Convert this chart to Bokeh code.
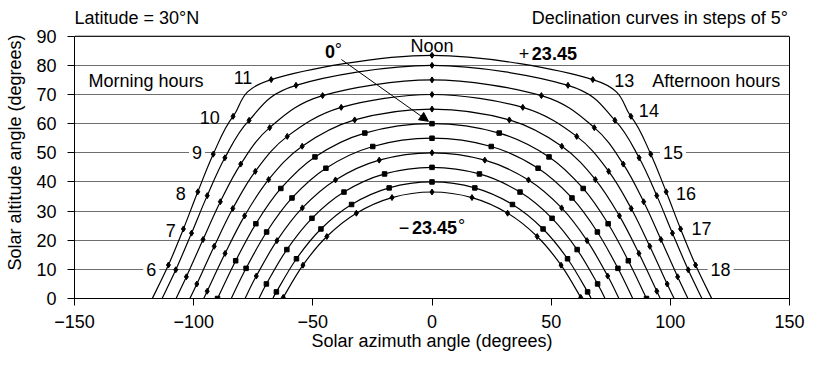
from bokeh.plotting import figure
from bokeh.models import Range1d, FixedTicker, Label, Arrow, NormalHead, Span, LinearAxis
from bokeh.embed import file_html
from bokeh.resources import INLINE

FONT = "Liberation Sans"

# ---- data: solar position, latitude 30 N, declination curves ----
declinations = [23.45, 20, 15, 10, 5, 0, -5, -10, -15, -20, -23.45]

hours_long = list(range(6, 19))    # 6 h .. 18 h
hours_short = list(range(7, 18))   # 7 h .. 17 h

az_p2345 = [-110.59, -104.30, -98.26, -91.79, -83.46, -67.48, 0.0, 67.48, 83.46, 91.79, 98.26, 104.30, 110.59]
alt_p2345 = [11.48, 23.87, 36.60, 49.53, 62.51, 75.11, 83.45, 75.11, 62.51, 49.53, 36.60, 23.87, 11.48]

az_p20 = [-107.50, -100.89, -94.31, -86.90, -76.74, -57.05, 0.0, 57.05, 76.74, 86.90, 94.31, 100.89, 107.50]
alt_p20 = [9.85, 22.43, 35.30, 48.28, 61.14, 73.15, 80.00, 73.15, 61.14, 48.28, 35.30, 22.43, 9.85]

az_p15 = [-103.06, -96.07, -88.81, -80.25, -68.10, -45.90, 0.0, 45.90, 68.10, 80.25, 88.81, 96.07, 103.06]
alt_p15 = [7.44, 20.24, 33.21, 46.13, 58.63, 69.62, 75.00, 69.62, 58.63, 46.13, 33.21, 20.24, 7.44]

az_p10 = [-98.68, -91.38, -83.59, -74.14, -60.73, -38.09, 0.0, 38.09, 60.73, 74.14, 83.59, 91.38, 98.68]
alt_p10 = [4.98, 17.91, 30.88, 43.62, 55.63, 65.59, 70.00, 65.59, 55.63, 43.62, 30.88, 17.91, 4.98]

az_p05 = [-94.33, -86.82, -78.63, -68.55, -54.46, -32.44, 0.0, 32.44, 54.46, 68.55, 78.63, 86.82, 94.33]
alt_p05 = [2.50, 15.48, 28.36, 40.81, 52.25, 61.27, 65.00, 61.27, 52.25, 40.81, 28.36, 15.48, 2.50]

az_000 = [-90.00, -82.37, -73.90, -63.43, -49.11, -28.19, 0.0, 28.19, 49.11, 63.43, 73.90, 82.37, 90.00]
alt_000 = [0.00, 12.95, 25.66, 37.76, 48.59, 56.77, 60.00, 56.77, 48.59, 37.76, 25.66, 12.95, 0.00]

az_m05 = [-78.01, -69.39, -58.74, -44.51, -24.86, 0.0, 24.86, 44.51, 58.74, 69.39, 78.01]
alt_m05 = [10.35, 22.82, 34.50, 44.71, 52.16, 55.00, 52.16, 44.71, 34.50, 22.82, 10.35]

az_m10 = [-73.72, -65.06, -54.40, -40.49, -22.15, 0.0, 22.15, 40.49, 54.40, 65.06, 73.72]
alt_m10 = [7.70, 19.85, 31.08, 40.68, 47.48, 50.00, 47.48, 40.68, 31.08, 19.85, 7.70]

az_m15 = [-69.48, -60.90, -50.37, -36.94, -19.90, 0.0, 19.90, 36.94, 50.37, 60.90, 69.48]
alt_m15 = [5.00, 16.79, 27.52, 36.52, 42.74, 45.00, 42.74, 36.52, 27.52, 16.79, 5.00]

az_m20 = [-65.29, -56.87, -46.60, -33.75, -17.97, 0.0, 17.97, 33.75, 46.60, 56.87, 65.29]
alt_m20 = [2.27, 13.64, 23.86, 32.26, 37.96, 40.00, 37.96, 32.26, 23.86, 13.64, 2.27]

az_m2345 = [-62.40, -54.15, -44.13, -31.73, -16.78, 0.0, 16.78, 31.73, 44.13, 54.15, 62.40]
alt_m2345 = [0.38, 11.44, 21.27, 29.28, 34.64, 36.55, 34.64, 29.28, 21.27, 11.44, 0.38]

# sunrise / sunset azimuths (altitude 0); None where sunrise is an hourly point
sunrise_az = [-117.35, -113.26, -107.39, -101.57, -95.78, None, -84.22, -78.43, -72.61, -66.74, -62.65]
sunset_az = [117.35, 113.26, 107.39, 101.57, 95.78, None, 84.22, 78.43, 72.61, 66.74, 62.65]

curve_az = [az_p2345, az_p20, az_p15, az_p10, az_p05, az_000, az_m05, az_m10, az_m15, az_m20, az_m2345]
curve_alt = [alt_p2345, alt_p20, alt_p15, alt_p10, alt_p05, alt_000, alt_m05, alt_m10, alt_m15, alt_m20, alt_m2345]
curve_marker = ["diamond", "diamond", "diamond", "diamond", "diamond", "square",
                "square", "diamond", "square", "square", "diamond"]

x_ticks = [-150, -100, -50, 0, 50, 100, 150]
x_tick_labels = ["\u2212150", "\u2212100", "\u221250", "0", "50", "100", "150"]
y_ticks = [0, 10, 20, 30, 40, 50, 60, 70, 80, 90]

hour_text = ["6", "7", "8", "9", "10", "11", "13", "14", "15", "16", "17", "18"]
hour_x = [-117.8, -109.6, -105.4, -98.6, -93.2, -79.3, 80.7, 91.0, 101.1, 106.6, 113.1, 121.1]
hour_y = [10, 23.3, 36.1, 50, 62.0, 75.8, 74.7, 64.5, 50, 36.1, 24.1, 10]
hour_on_grid = ["6", "9", "15", "18"]

# ---- figure ----
# y range runs above 90 so the two header texts sit inside the frame;
# the visible box is closed at 90 by a span and a bounded right axis.
p = figure(width=805, height=353, x_range=Range1d(-150, 150), y_range=Range1d(0, 100.2),
           output_backend="svg", toolbar_location=None,
           min_border_left=74, min_border_right=16, min_border_top=6, min_border_bottom=53)
p.background_fill_color = "white"
p.border_fill_color = "white"
p.outline_line_color = None

p.xgrid.grid_line_color = None
p.ygrid.ticker = FixedTicker(ticks=y_ticks)
p.ygrid.grid_line_color = "#6e6e6e"
p.ygrid.grid_line_width = 1

p.xaxis.ticker = FixedTicker(ticks=x_ticks)
p.xaxis.major_label_overrides = dict(zip(x_ticks, x_tick_labels))
p.yaxis.ticker = FixedTicker(ticks=y_ticks)
p.yaxis.bounds = (0, 90)
for ax in (p.xaxis[0], p.yaxis[0]):
    ax.axis_line_color = "black"
    ax.major_tick_line_color = "black"
    ax.major_tick_out = 7
    ax.major_tick_in = 0
    ax.minor_tick_line_color = None
    ax.major_label_text_font = FONT
    ax.major_label_text_font_size = "18px"
    ax.major_label_text_color = "black"
    ax.axis_label_text_font = FONT
    ax.axis_label_text_font_size = "18px"
    ax.axis_label_text_font_style = "normal"
    ax.axis_label_text_color = "black"
p.xaxis.axis_label = "Solar azimuth angle (degrees)"
p.yaxis.axis_label = "Solar altitude angle (degrees)"
p.xaxis.major_label_standoff = 9
p.xaxis.axis_label_standoff = 0
p.yaxis.major_label_standoff = 11
p.yaxis.axis_label_standoff = 8

right_ax = LinearAxis(bounds=(0, 90), ticker=FixedTicker(ticks=[]), axis_line_color="black",
                      major_tick_line_color=None, minor_tick_line_color=None,
                      major_label_text_font_size="0px")
p.add_layout(right_ax, "right")
p.add_layout(Span(location=90, dimension="width", line_color="black", line_width=1))


def smooth_segments(xs, ys):
    """Excel-style smoothed line: cubic Bezier pieces through the points."""
    n = len(xs)
    out = dict(x0=[], y0=[], x1=[], y1=[], cx0=[], cy0=[], cx1=[], cy1=[])
    for i in range(n - 1):
        a = max(i - 1, 0)
        d = min(i + 2, n - 1)
        out["x0"].append(xs[i]); out["y0"].append(ys[i])
        out["x1"].append(xs[i + 1]); out["y1"].append(ys[i + 1])
        out["cx0"].append(xs[i] + (xs[i + 1] - xs[a]) / 6.0)
        out["cy0"].append(ys[i] + (ys[i + 1] - ys[a]) / 6.0)
        out["cx1"].append(xs[i + 1] - (xs[d] - xs[i]) / 6.0)
        out["cy1"].append(ys[i + 1] - (ys[d] - ys[i]) / 6.0)
    return out


for az, alt, rise, sset, mk in zip(curve_az, curve_alt, sunrise_az, sunset_az, curve_marker):
    if rise is None:
        xs, ys = list(az), list(alt)
    else:
        xs = [rise] + list(az) + [sset]
        ys = [0.0] + list(alt) + [0.0]
    seg = smooth_segments(xs, ys)
    p.bezier(x0="x0", y0="y0", x1="x1", y1="y1", cx0="cx0", cy0="cy0", cx1="cx1", cy1="cy1",
             source=seg, line_color="black", line_width=1.2)
    p.scatter(az, alt, marker=mk, size=6 if mk == "diamond" else 4.5,
              fill_color="black", line_color="black")


def lab(x, y, text, align="center", bold=False, bg=False, size="18px", baseline="middle"):
    kw = {}
    if bg:
        kw = dict(background_fill_color="white", padding=3)
    p.add_layout(Label(x=x, y=y, text=text, text_font=FONT, text_font_size=size,
                       text_font_style="bold" if bold else "normal", text_color="black",
                       text_align=align, text_baseline=baseline, **kw))


for t, hx, hy in zip(hour_text, hour_x, hour_y):
    lab(hx, hy, t, bg=(t in hour_on_grid))

lab(-150, 96.3, "Latitude = 30\u00b0N", align="left")
lab(149.4, 96.3, "Declination curves in steps of 5\u00b0", align="right")
lab(-144.1, 74.7, "Morning hours", align="left")
lab(92.4, 74.7, "Afternoon hours", align="left")
lab(0, 86.6, "Noon")
lab(36.4, 84.2, "+", align="left")
lab(41.9, 84.2, "23.45", align="left", bold=True)
lab(-44.9, 84.8, "0", align="left", bold=True)
lab(-40.8, 85.3, "\u00b0", align="left")
lab(-13.9, 24.5, "\u2212", align="left")
lab(-8.4, 24.5, "23.45", align="left", bold=True)
lab(10.9, 25.0, "\u00b0", align="left")

p.add_layout(Arrow(x_start=-38.0, y_start=82.0, x_end=-1.5, y_end=60.8,
                   line_color="black", line_width=1,
                   end=NormalHead(size=9, fill_color="black", line_color="black")))

open("out.html", "w").write(file_html(p, INLINE))
